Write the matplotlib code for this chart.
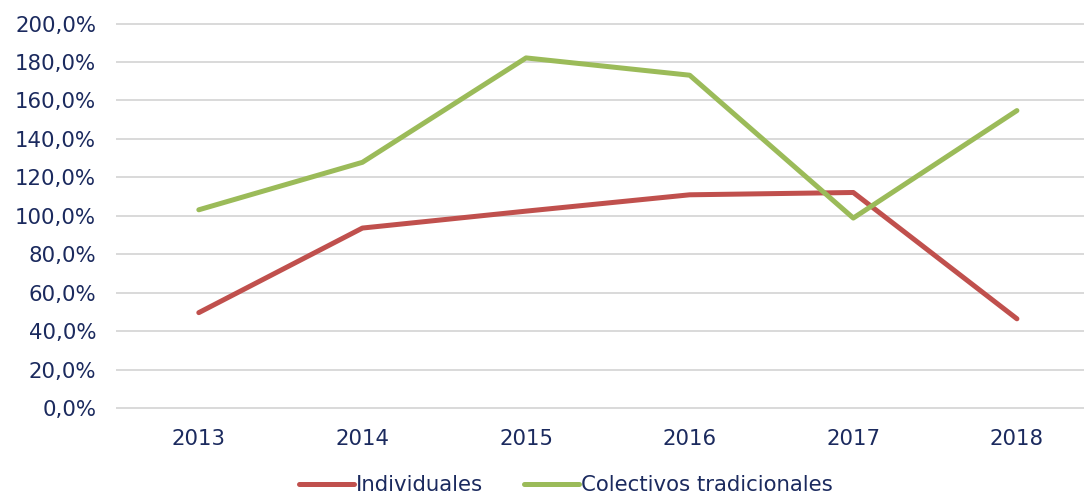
import matplotlib
matplotlib.use("Agg")
import matplotlib.pyplot as plt
from matplotlib.ticker import FuncFormatter

years = ["2013", "2014", "2015", "2016", "2017", "2018"]
individuales = [49.6, 93.6, 102.4, 110.9, 112.1, 46.4]
colectivos = [103.1, 127.8, 182.1, 173.1, 98.8, 154.7]
y_ticks = [0, 20, 40, 60, 80, 100, 120, 140, 160, 180, 200]

text_color = "#1b2a5e"
plt.rcParams["font.family"] = ["DejaVu Sans"]

fig = plt.figure(figsize=(10.84, 4.96), dpi=100)
ax = fig.add_axes([117 / 1084, 88 / 496, 1 - 117 / 1084, (408 - 23.5) / 496])

x = list(range(len(years)))
ax.plot(x, individuales, color="#C0504D", lw=3.6, solid_capstyle="round",
        solid_joinstyle="round", label="Individuales", zorder=3)
ax.plot(x, colectivos, color="#9BBB59", lw=3.6, solid_capstyle="round",
        solid_joinstyle="round", label="Colectivos tradicionales", zorder=3)

ax.set_ylim(0, 200)
ax.set_xlim(-0.5, 5.41)
ax.set_yticks(y_ticks)
ax.yaxis.set_major_formatter(FuncFormatter(lambda v, p: f"{v:.1f}%".replace(".", ",")))
ax.set_xticks(x)
ax.set_xticklabels(years)
ax.grid(axis="y", color="#D9D9D9", lw=1.4, zorder=0)
for gl in ax.get_ygridlines():
    gl.set_clip_on(False)
ax.set_axisbelow(True)
for s in ax.spines.values():
    s.set_visible(False)
ax.tick_params(axis="both", length=0, labelsize=15.3, colors=text_color)
ax.tick_params(axis="y", pad=15)
ax.tick_params(axis="x", pad=15)

leg = fig.legend(loc="lower center", bbox_to_anchor=(0.522, -0.037), ncol=2, frameon=False,
                 fontsize=15.3, handlelength=2.6, handletextpad=0.1, columnspacing=1.9)
for t in leg.get_texts():
    t.set_color(text_color)

fig.savefig("out.png", dpi=100)
